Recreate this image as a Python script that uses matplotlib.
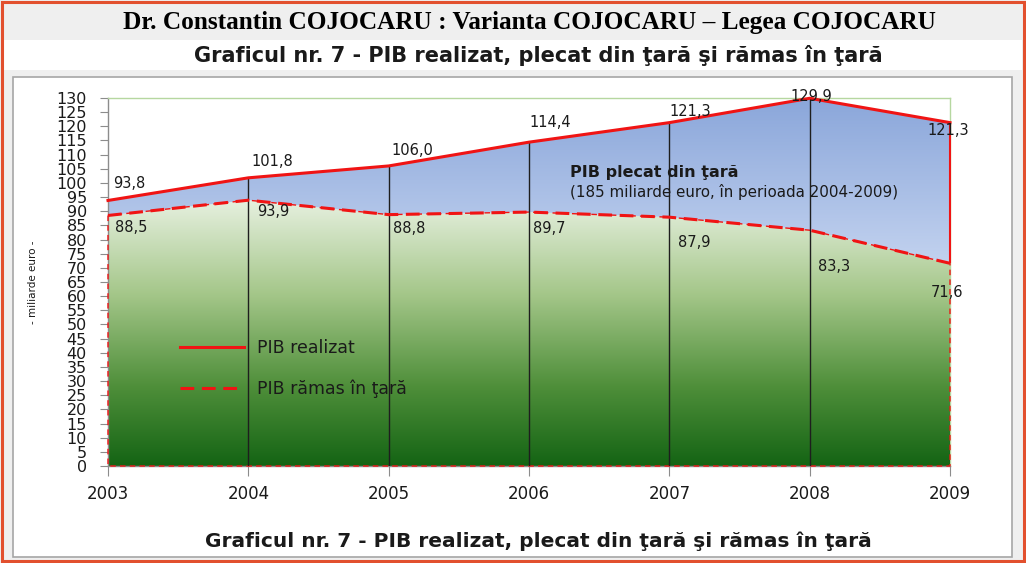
import numpy as np
import matplotlib
matplotlib.use("Agg")
import matplotlib.pyplot as plt
from matplotlib.colors import LinearSegmentedColormap
from matplotlib.patches import Rectangle

# ---------------- data ----------------
years = [2003, 2004, 2005, 2006, 2007, 2008, 2009]
pib_realizat = [93.8, 101.8, 106.0, 114.4, 121.3, 129.9, 121.3]
pib_ramas = [88.5, 93.9, 88.8, 89.7, 87.9, 83.3, 71.6]
label_realizat = ["93,8", "101,8", "106,0", "114,4", "121,3", "129,9", "121,3"]
label_ramas = ["88,5", "93,9", "88,8", "89,7", "87,9", "83,3", "71,6"]
y_ticks = list(range(0, 131, 5))
legend_labels = ["PIB realizat", "PIB rămas în ţară"]
title_top = "Dr. Constantin COJOCARU : Varianta COJOCARU – Legea COJOCARU"
title_chart = "Graficul nr. 7 - PIB realizat, plecat din ţară şi rămas în ţară"
ylabel = "- miliarde euro -"
note_bold = "PIB plecat din ţară"
note_text = "(185 miliarde euro, în perioada 2004-2009)"

# label offsets in points (style)
off_up = [(4, 12), (2, 12), (2, 11), (0, 14), (0, 8), (-14, 1), (-16, -6)]
off_dn = [(5, -9), (6, -8), (3, -10), (3, -12), (6, -18), (6, -26), (-14, -21)]

W, H = 1026, 563
fig = plt.figure(figsize=(W / 100, H / 100), dpi=100)
fig.patch.set_facecolor("#EFEFEF")

def px(x, y, w, h, **kw):
    fig.add_artist(Rectangle((x / W, 1 - (y + h) / H), w / W, h / H,
                             transform=fig.transFigure, **kw))

# white band for second title
px(4, 40, 1018, 30, facecolor="white", edgecolor="none", zorder=0)
# panel
px(13, 77, 999, 480, facecolor="white", edgecolor="#A6A6A6", lw=1.2, zorder=0)
# outer red border
px(1.5, 1.5, 1022, 559, facecolor="none", edgecolor="#E2502E", lw=2.2, zorder=10)

x0, x1, ytop, ybot = 108, 950, 98, 466
ax = fig.add_axes([x0 / W, 1 - ybot / H, (x1 - x0) / W, (ybot - ytop) / H])
ax.set_facecolor("white")
ax.set_xlim(years[0], years[-1])
ax.set_ylim(0, 130)

red = "#F01414"

# lower area (green gradient)
low = ax.fill_between(years, 0, pib_ramas, facecolor="none", edgecolor=red,
                      linestyle=(0, (4, 3)), lw=1.0, zorder=3, clip_on=False)
gcmap = LinearSegmentedColormap.from_list(
    "g", [(0, "#146414"), (0.3, "#4F8F3A"), (0.65, "#A5C78A"), (1.0, "#E6F0DF")])
grad = np.linspace(0, 1, 256).reshape(-1, 1)
im1 = ax.imshow(grad, cmap=gcmap, origin="lower", aspect="auto",
                extent=[years[0], years[-1], 0, max(pib_ramas)], zorder=2)
im1.set_clip_path(low.get_paths()[0], transform=ax.transData)

# upper area (blue gradient)
up = ax.fill_between(years, pib_ramas, pib_realizat, facecolor="none",
                     edgecolor="none", zorder=3)
bcmap = LinearSegmentedColormap.from_list("b", [(0, "#C2D2EF"), (1, "#8AA6DA")])
im2 = ax.imshow(grad, cmap=bcmap, origin="lower", aspect="auto",
                extent=[years[0], years[-1], min(pib_ramas), 130], zorder=2)
im2.set_clip_path(up.get_paths()[0], transform=ax.transData)
# right edge of the upper area
ax.vlines(years[-1], pib_ramas[-1], pib_realizat[-1], color=red, lw=1.5,
          zorder=4, clip_on=False)

# drop lines
ax.vlines(years[1:-1], 0, pib_realizat[1:-1], color="#1E1E1E", lw=1.0, zorder=4)

l1, = ax.plot(years, pib_realizat, color=red, lw=2.2, zorder=5, clip_on=False,
              solid_joinstyle="miter", label=legend_labels[0])
l2, = ax.plot(years, pib_ramas, color=red, lw=2.2, ls=(0, (4.5, 2.5)), zorder=5,
              clip_on=False, label=legend_labels[1])

for xv, yv, t, o in zip(years, pib_realizat, label_realizat, off_up):
    ax.annotate(t, (xv, yv), xytext=o, textcoords="offset points",
                ha="left", va="center", fontsize=10.5, color="#1A1A1A", zorder=6)
for xv, yv, t, o in zip(years, pib_ramas, label_ramas, off_dn):
    ax.annotate(t, (xv, yv), xytext=o, textcoords="offset points",
                ha="left", va="center", fontsize=10.5, color="#1A1A1A", zorder=6)

ax.text(0.549, 0.798, note_bold, transform=ax.transAxes, fontsize=11.5,
        fontweight="bold", color="#1A1A1A", va="center", ha="left", zorder=6)
ax.text(0.549, 0.745, note_text, transform=ax.transAxes, fontsize=10.9,
        color="#1A1A1A", va="center", ha="left", zorder=6)

leg = ax.legend(handles=[l1, l2], loc="upper left", bbox_to_anchor=(0.0855, 0.345),
                frameon=False, fontsize=12.5, handlelength=3.7, handletextpad=0.75,
                labelspacing=1.3, borderpad=0, borderaxespad=0)
for t in leg.get_texts():
    t.set_color("#1A1A1A")

# spines & ticks
for s in ["left", "bottom"]:
    ax.spines[s].set_color("#8C8C8C")
    ax.spines[s].set_linewidth(1.0)
for s in ["top", "right"]:
    ax.spines[s].set_color("#B6D7A0")
    ax.spines[s].set_linewidth(1.0)
ax.spines["right"].set_zorder(1)
ax.set_yticks(y_ticks)
ax.set_yticklabels([str(v) for v in y_ticks])
ax.set_xticks(years)
ax.set_xticklabels([str(y) for y in years])
ax.tick_params(axis="y", direction="out", length=5.8, color="#8C8C8C",
               labelsize=11.5, pad=9.4, labelcolor="#1A1A1A")
ax.tick_params(axis="x", direction="out", length=7, color="#8C8C8C",
               labelsize=12, pad=7, labelcolor="#1A1A1A")
ax.set_ylabel(ylabel, fontsize=7.5, color="#1A1A1A")
ax.yaxis.set_label_coords(-0.089 + 5 / 842, 0.5)

# titles
fig.text(529 / W, 1 - 22 / H, title_top, ha="center", va="center",
         fontsize=18.2, fontweight="bold", family="Liberation Serif", color="black")
fig.text(538 / W, 1 - 55 / H, title_chart, ha="center", va="center",
         fontsize=15, fontweight="bold", color="#1A1A1A")
fig.text(538 / W, 1 - 541 / H, title_chart, ha="center", va="center",
         fontsize=14.5, fontweight="bold", color="#1A1A1A")

fig.savefig("out.png", dpi=100, facecolor=fig.get_facecolor())
